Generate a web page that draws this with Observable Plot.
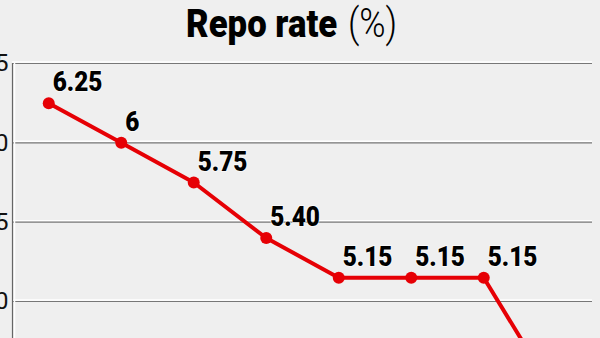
<!DOCTYPE html>
<html>
<head>
<meta charset="utf-8">
<script src="https://cdn.jsdelivr.net/npm/d3@7"></script>
<script src="https://cdn.jsdelivr.net/npm/@observablehq/plot@0.6"></script>
<style>
  html, body { margin: 0; padding: 0; background: #efefef; width: 600px; height: 338px; overflow: hidden; }
  #title { box-sizing: border-box; height: 55px; padding-top: 1px; line-height: 46px; text-align: center; font-family: Roboto, sans-serif; color: #000; padding-right: 17px; white-space: nowrap; }
  #title .inner { display: inline-block; transform: scaleX(0.89); transform-origin: center; }
  #title b { font-weight: 900; font-size: 39px; }
  #title span { font-weight: 300; font-size: 40px; margin-left: 12px; }
  #chart svg { display: block; }
</style>
</head>
<body>
<div id="title"><div class="inner"><b>Repo rate</b><span>(%)</span></div></div>
<div id="chart"></div>
<script>
// Policy meetings (x-axis categories; the axis itself is outside the cropped view)
const meetings = ["Feb 2019", "Apr 2019", "Jun 2019", "Aug 2019", "Oct 2019", "Dec 2019", "Feb 2020", "Mar 2020"];
const rates = [6.25, 6.00, 5.75, 5.40, 5.15, 5.15, 5.15, 4.40];
const rateLabels = ["6.25", "6", "5.75", "5.40", "5.15", "5.15", "5.15", "4.40"];
const yTicks = [4.0, 4.5, 5.0, 5.5, 6.0, 6.5];

const data = meetings.map((m, i) => ({meeting: m, i, rate: rates[i], label: rateLabels[i]}));

const chart = Plot.plot({
  width: 600,
  height: 500,
  marginLeft: 12,
  marginRight: 8,
  marginTop: 8,
  marginBottom: 16,
  style: {background: "transparent", fontFamily: "Roboto, sans-serif", fontSize: "24px", color: "#111", overflow: "visible"},
  x: {type: "linear", domain: [-0.5, 7.5], axis: null},
  y: {domain: [3.5, 6.5], ticks: yTicks, tickFormat: d3.format(".1f"), tickSize: 0, tickPadding: 4, label: null},
  marks: [
    Plot.ruleY(yTicks, {stroke: "#ffffff", strokeWidth: 1.5, dy: -1.5, x1: -0.5, x2: 7.5}),
    Plot.ruleY(yTicks, {stroke: "#777777", strokeWidth: 1.2, x1: -0.5, x2: 7.5}),
    Plot.ruleX([-0.5], {stroke: "#ffffff", strokeWidth: 1.5, dx: 2}),
    Plot.ruleX([-0.5], {stroke: "#666666", strokeWidth: 1.2}),
    Plot.line(data, {x: "i", y: "rate", stroke: "#e60005", strokeWidth: 4}),
    Plot.dot(data, {x: "i", y: "rate", r: 6, fill: "#e60005", stroke: "none"}),
    Plot.text(data, {x: "i", y: "rate", text: "label", textAnchor: "start", lineAnchor: "bottom", dx: 4, dy: -12,
      fontSize: 28, fontWeight: 900, fill: "#000", stroke: "#ffffff", strokeWidth: 2, strokeOpacity: 0.6})
  ]
});
// condense the value labels horizontally (no condensed face is installed)
chart.querySelectorAll('g[aria-label="text"] text').forEach(t => {
  const tr = t.getAttribute("transform");
  if (tr) t.setAttribute("transform", tr + " scale(0.87,1)");
  else {
    const x = +t.getAttribute("x") || 0, y = +t.getAttribute("y") || 0;
    t.setAttribute("transform", `translate(${x},${y}) scale(0.87,1)`);
    t.removeAttribute("x"); t.removeAttribute("y");
  }
});
document.getElementById("chart").appendChild(chart);
</script>
</body>
</html>
